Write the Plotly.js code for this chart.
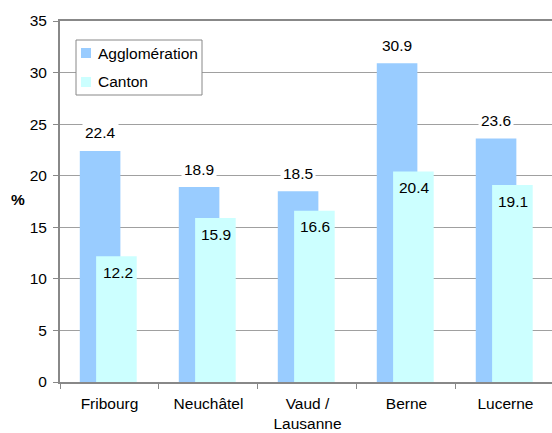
<!DOCTYPE html>
<html>
<head>
<meta charset="utf-8">
<script src="https://cdn.plot.ly/plotly-3.0.1.min.js"></script>
<style>html,body{margin:0;padding:0;background:#fff;overflow:hidden}#chart{width:552px;height:433px}</style>
</head>
<body>
<div id="chart"></div>
<script>
const categories = ["Fribourg", "Neuchâtel", "Vaud /<br>Lausanne", "Berne", "Lucerne"];
const agglomeration = [22.4, 18.9, 18.5, 30.9, 23.6];
const canton = [12.2, 15.9, 16.6, 20.4, 19.1];
const seriesNames = ["Agglomération", "Canton"];
const seriesColors = ["#99CCFF", "#CCFFFF"];
const yTicks = [0, 5, 10, 15, 20, 25, 30, 35];

const FONT = "Liberation Sans, Arial, sans-serif";
const FS = 15.5;

const traces = [
  {
    type: "bar", name: seriesNames[0], x: categories, y: agglomeration,
    width: 0.41, offset: -0.3,
    marker: {color: seriesColors[0], line: {width: 0}},
    hoverinfo: "none"
  },
  {
    type: "bar", name: seriesNames[1], x: categories, y: canton,
    width: 0.41, offset: -0.135,
    marker: {color: seriesColors[1], line: {width: 0}},
    hoverinfo: "none"
  }
];

const annotations = [];
categories.forEach((c, i) => {
  annotations.push({
    x: c, y: agglomeration[i], xref: "x", yref: "y",
    text: agglomeration[i].toFixed(1), showarrow: false,
    xshift: -9, yshift: 18, yanchor: "middle",
    bgcolor: "#ffffff", borderpad: 2,
    font: {family: FONT, size: FS, color: "#000"}
  });
  annotations.push({
    x: c, y: canton[i], xref: "x", yref: "y",
    text: canton[i].toFixed(1), showarrow: false,
    xshift: 8, yshift: -16, yanchor: "middle",
    font: {family: FONT, size: FS, color: "#000"}
  });
});
annotations.push({
  xref: "paper", yref: "paper", x: -0.085, y: 0.505,
  xanchor: "center", yanchor: "middle",
  text: "<b>%</b>", showarrow: false,
  font: {family: FONT, size: FS, color: "#000"}
});

// Legend (drawn in plot-area paper coordinates)
const PX0 = 60, PW = 492, PY0 = 21, PH = 361;
const px = v => (v - PX0) / PW;
const py = v => 1 - (v - PY0) / PH;
const shapes = [{
  type: "rect", xref: "paper", yref: "paper",
  x0: px(76), x1: px(202), y0: py(95), y1: py(40),
  line: {color: "#888888", width: 1}, fillcolor: "#ffffff", layer: "above"
}];
const legendRows = [53, 82];
seriesNames.forEach((n, i) => {
  shapes.push({
    type: "rect", xref: "paper", yref: "paper",
    x0: px(81), x1: px(91), y0: py(legendRows[i] + 5), y1: py(legendRows[i] - 5),
    line: {width: 0}, fillcolor: seriesColors[i], layer: "above"
  });
  annotations.push({
    xref: "paper", yref: "paper", x: px(96), y: py(legendRows[i]),
    xanchor: "left", yanchor: "middle", text: n, showarrow: false,
    font: {family: FONT, size: FS, color: "#000"}
  });
});

const layout = {
  width: 552, height: 433,
  margin: {l: 60, r: 0, t: 21, b: 51},
  paper_bgcolor: "#ffffff", plot_bgcolor: "#ffffff",
  barmode: "overlay",
  font: {family: FONT, size: FS, color: "#000"},
  showlegend: false,
  xaxis: {
    type: "category", range: [-0.5, 4.47],
    showline: true, linecolor: "#888888", linewidth: 2, mirror: true,
    ticks: "outside", tickson: "boundaries", ticklen: 5, tickcolor: "#888888",
    showgrid: false, fixedrange: true, ticklabelstandoff: 6,
    tickfont: {family: FONT, size: FS, color: "#000"}
  },
  yaxis: {
    range: [0, 35], tickvals: yTicks, ticktext: yTicks.map(String),
    showline: true, linecolor: "#888888", linewidth: 2,
    ticks: "outside", ticklen: 5, tickcolor: "#888888",
    showgrid: true, gridcolor: "#a0a0a0", gridwidth: 1,
    zeroline: false, fixedrange: true, ticklabelstandoff: 3,
    tickfont: {family: FONT, size: FS, color: "#000"}
  },
  shapes: shapes,
  annotations: annotations
};

Plotly.newPlot("chart", traces, layout, {staticPlot: true, displayModeBar: false});
</script>
</body>
</html>
